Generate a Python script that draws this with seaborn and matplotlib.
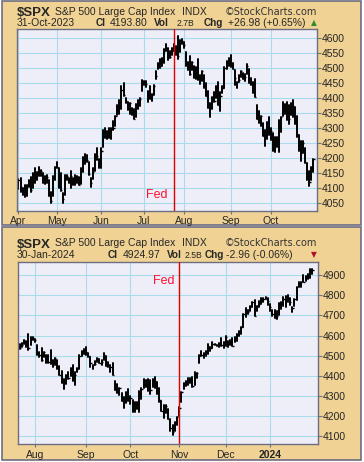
import numpy as np
import pandas as pd
import seaborn as sns
import matplotlib
matplotlib.use('Agg')
import matplotlib.pyplot as plt
from matplotlib.patches import Rectangle

# $SPX barras diarias (maxima, minima, fechamento)
feriados = ['2023-04-07', '2023-05-29', '2023-06-19', '2023-07-04', '2023-09-04',
            '2023-11-23', '2023-12-25', '2024-01-01', '2024-01-15']

abr = [(4128, 4095, 4124.5), (4133, 4086, 4100.6), (4100, 4075, 4090.4), (4108, 4070, 4105.0),
       (4110, 4072, 4109.1), (4124, 4102, 4108.9), (4134, 4086, 4092.0), (4150, 4099, 4146.2),
       (4164, 4114, 4137.6), (4152, 4124, 4151.3), (4170, 4140, 4154.9), (4160, 4139, 4154.5),
       (4148, 4114, 4129.8), (4138, 4113, 4133.5), (4141, 4117, 4137.0), (4126, 4071, 4071.6),
       (4087, 4049, 4056.0), (4139, 4072, 4135.4), (4170, 4127, 4169.5)]
mai = [(4186, 4164, 4167.9), (4164, 4100, 4119.6), (4149, 4088, 4090.8), (4083, 4048, 4061.2),
       (4143, 4076, 4136.3), (4143, 4124, 4138.1), (4131, 4116, 4119.2), (4154, 4099, 4137.6),
       (4132, 4109, 4130.6), (4143, 4108, 4124.1), (4139, 4114, 4136.3), (4135, 4109, 4109.9),
       (4164, 4113, 4158.8), (4202, 4153, 4198.1), (4212, 4180, 4192.0), (4209, 4186, 4192.6),
       (4186, 4143, 4145.6), (4131, 4103, 4115.2), (4165, 4129, 4151.3), (4213, 4155, 4205.5),
       (4231, 4193, 4205.5), (4195, 4167, 4179.8)]
jun = [(4232, 4166, 4221.0), (4291, 4236, 4282.4), (4299, 4267, 4273.8), (4289, 4262, 4283.9),
       (4300, 4265, 4267.5), (4298, 4261, 4293.9), (4322, 4292, 4298.9), (4340, 4304, 4338.9),
       (4375, 4341, 4369.0), (4391, 4346, 4372.6), (4439, 4363, 4425.8), (4448, 4407, 4409.6),
       (4400, 4381, 4388.7), (4387, 4360, 4365.7), (4382, 4345, 4381.9), (4366, 4341, 4348.3),
       (4363, 4328, 4328.8), (4379, 4334, 4378.4), (4391, 4361, 4376.9), (4398, 4372, 4396.4),
       (4458, 4422, 4450.4)]
jul = [(4456, 4442, 4455.6), (4454, 4437, 4446.8), (4423, 4385, 4411.6), (4440, 4397, 4399.0),
       (4412, 4389, 4409.5), (4443, 4408, 4439.3), (4488, 4463, 4472.2), (4517, 4494, 4510.0),
       (4528, 4499, 4505.4), (4532, 4504, 4522.8), (4562, 4515, 4555.0), (4578, 4557, 4565.7),
       (4565, 4527, 4534.9), (4556, 4532, 4536.3), (4564, 4542, 4554.6), (4580, 4556, 4567.5),
       (4572, 4541, 4566.8), (4607, 4528, 4537.4), (4593, 4553, 4582.2), (4595, 4580, 4589.0)]
ago = [(4584, 4567, 4576.7), (4551, 4505, 4513.4), (4519, 4491, 4501.9), (4540, 4475, 4478.0),
       (4520, 4491, 4518.4), (4504, 4464, 4499.4), (4503, 4462, 4467.7), (4528, 4458, 4468.8),
       (4476, 4444, 4464.1), (4490, 4454, 4489.7), (4477, 4432, 4437.9), (4449, 4404, 4404.3),
       (4421, 4364, 4370.4), (4382, 4336, 4369.7), (4401, 4361, 4399.8), (4419, 4384, 4387.6),
       (4438, 4398, 4436.0), (4451, 4376, 4376.3), (4418, 4356, 4405.7), (4440, 4416, 4433.3),
       (4501, 4431, 4497.6), (4521, 4497, 4514.9), (4532, 4507, 4507.7)]
set_ = [(4541, 4501, 4515.8), (4515, 4494, 4496.8), (4491, 4442, 4465.5), (4453, 4431, 4451.1),
        (4474, 4451, 4457.5), (4490, 4468, 4487.5), (4481, 4461, 4461.9), (4479, 4454, 4467.4),
        (4511, 4478, 4505.1), (4497, 4448, 4450.3), (4467, 4443, 4453.5), (4451, 4416, 4444.0),
        (4461, 4402, 4402.2), (4375, 4330, 4330.0), (4357, 4316, 4320.1), (4339, 4304, 4337.4),
        (4314, 4273, 4273.5), (4292, 4239, 4274.5), (4318, 4262, 4299.7), (4334, 4274, 4288.1)]
out = [(4300, 4260, 4288.4), (4281, 4221, 4229.5), (4268, 4220, 4263.8), (4268, 4234, 4258.2),
       (4325, 4219, 4308.5), (4337, 4284, 4335.7), (4385, 4339, 4358.2), (4378, 4345, 4377.0),
       (4386, 4326, 4349.6), (4377, 4311, 4327.8), (4383, 4342, 4373.6), (4393, 4337, 4373.2),
       (4368, 4311, 4314.6), (4339, 4270, 4278.0), (4276, 4223, 4224.2), (4255, 4190, 4217.0),
       (4255, 4216, 4247.7), (4232, 4182, 4186.8), (4183, 4127, 4137.2), (4157, 4104, 4117.4),
       (4169, 4127, 4166.8), (4195, 4153, 4193.8)]
nov = [(4245, 4197, 4237.9), (4320, 4269, 4317.8), (4366, 4335, 4358.3), (4372, 4347, 4366.0),
       (4387, 4355, 4378.4), (4391, 4365, 4382.8), (4393, 4344, 4347.4), (4418, 4353, 4415.2),
       (4414, 4388, 4411.6), (4505, 4461, 4495.7), (4522, 4496, 4502.9), (4511, 4487, 4508.2),
       (4521, 4500, 4514.0), (4557, 4510, 4547.4), (4542, 4525, 4538.2), (4569, 4537, 4556.6),
       (4560, 4552, 4559.3), (4555, 4546, 4550.4), (4562, 4541, 4554.9), (4588, 4547, 4550.6),
       (4569, 4537, 4567.8)]
dez = [(4599, 4547, 4594.6), (4575, 4545, 4569.8), (4578, 4551, 4567.2), (4590, 4547, 4549.3),
       (4591, 4566, 4585.6), (4609, 4575, 4604.4), (4623, 4599, 4622.4), (4644, 4609, 4643.7),
       (4709, 4643, 4707.1), (4738, 4694, 4719.6), (4726, 4705, 4719.2), (4749, 4721, 4740.6),
       (4769, 4743, 4768.4), (4779, 4697, 4698.4), (4749, 4721, 4746.8), (4773, 4743, 4754.6),
       (4785, 4758, 4774.8), (4785, 4769, 4781.6), (4793, 4780, 4783.4), (4789, 4752, 4769.8)]
jan = [(4755, 4722, 4742.8), (4729, 4699, 4704.8), (4727, 4687, 4688.7), (4721, 4682, 4697.2),
       (4764, 4700, 4763.5), (4765, 4730, 4756.5), (4790, 4748, 4783.5), (4798, 4740, 4780.2),
       (4802, 4768, 4783.8), (4785, 4751, 4766.0), (4744, 4715, 4739.2), (4783, 4747, 4780.9),
       (4843, 4775, 4839.8), (4868, 4844, 4850.4), (4866, 4842, 4864.6), (4903, 4865, 4868.6),
       (4898, 4869, 4894.2), (4907, 4882, 4891.0), (4930, 4887, 4927.9), (4932, 4905, 4925.0)]

dias = pd.bdate_range('2023-04-03', '2024-01-30', freq='C', holidays=feriados)
dados = pd.DataFrame(abr + mai + jun + jul + ago + set_ + out + nov + dez + jan,
                     columns=['high', 'low', 'close'], index=dias)

W, H = 364, 462
TAN = '#f0d294'
CINZA = '#6e6e82'
FUNDO = '#eeeef8'
GRADE = '#a8dcea'

sns.set_style('white')
plt.rcParams['font.family'] = ['Liberation Sans', 'DejaVu Sans']

fig = plt.figure(figsize=(W / 100, H / 100), dpi=100)
fig.patch.set_facecolor('white')


def px(x, y):
    return x / W, 1 - y / H


def caixa(x0, y0, x1, y1):
    a, b = px(x0, y1)
    fig.patches.append(Rectangle((a, b), (x1 - x0) / W, (y1 - y0) / H, transform=fig.transFigure,
                                 facecolor=TAN, edgecolor=CINZA, lw=1.2, zorder=-10))


def cabecalho(dy, data, cl, vol, chg, subiu, xs):
    fig.text(*px(17, 16 + dy), '$SPX', fontsize=9.5, fontweight='bold', va='baseline')
    fig.text(*px(55, 15 + dy), 'S&P 500 Large Cap Index', fontsize=7.5, va='baseline')
    fig.text(*px(182, 15 + dy), 'INDX', fontsize=7.5, va='baseline')
    fig.text(*px(317, 15 + dy), '\u00a9StockCharts.com', fontsize=7, va='baseline', ha='right',
             family='DejaVu Sans', color='#333333')
    y2 = 26.5 + dy
    fig.text(*px(17, y2), data, fontsize=7.5, va='baseline')
    fig.text(*px(xs[0], y2), 'Cl', fontsize=7.2, fontweight='bold', va='baseline')
    fig.text(*px(xs[1], y2), cl, fontsize=7.5, va='baseline')
    fig.text(*px(xs[2], y2), 'Vol', fontsize=7.2, fontweight='bold', va='baseline')
    fig.text(*px(xs[3], y2), vol, fontsize=6.2, va='baseline')
    fig.text(*px(xs[4], y2), 'Chg', fontsize=7.2, fontweight='bold', va='baseline')
    fig.text(*px(xs[5], y2), chg, fontsize=7.5, va='baseline')
    fig.text(*px(314, y2 - 1), '\u25b2' if subiu else '\u25bc', fontsize=5.5, ha='center',
             va='baseline', family='DejaVu Sans', color='#2e8b2e' if subiu else '#b0102a')


def painel(caixa_px, ini, fim, xlim, ylim, yticks, fed):
    x0, y0, x1, y1 = caixa_px
    a, b = px(x0, y1)
    ax = fig.add_axes([a, b, (x1 - x0) / W, (y1 - y0) / H])
    d = dados.loc[ini:fim].copy()
    d['x'] = np.arange(len(d))
    d['dia'] = d['x']
    longo = d.melt(id_vars=['x', 'dia'], value_vars=['high', 'low'], value_name='preco')
    sns.lineplot(data=longo, x='x', y='preco', units='dia', estimator=None,
                 color='black', lw=1.4, ax=ax)
    ax.hlines(d['close'], d['x'], d['x'] + 0.6, color='black', lw=1.0)

    # primeiro pregao de cada mes (ignora mes incompleto no inicio)
    primeiros = d.groupby([d.index.year, d.index.month]).head(1)
    primeiros = primeiros[primeiros.index.day <= 5]
    rotulos = ['2024' if (t.year == 2024 and t.month == 1) else t.strftime('%b')
               for t in primeiros.index]
    ax.set_xticks(primeiros['x'].values)
    ax.set_xticklabels(rotulos)
    for t in ax.get_xticklabels():
        if t.get_text() == '2024':
            t.set_fontweight('bold')
            t.set_fontsize(8)

    ax.axvline(d.loc[fed, 'x'], color='#e00000', lw=1.0, zorder=3)

    ax.set_xlim(*xlim)
    ax.set_ylim(*ylim)
    ax.set_yticks(yticks)
    ax.yaxis.tick_right()
    ax.set_facecolor(FUNDO)
    ax.grid(True, color=GRADE, lw=0.8)
    ax.set_axisbelow(True)
    ax.set_xlabel('')
    ax.set_ylabel('')
    ax.tick_params(axis='y', direction='out', length=3, width=0.8, color=CINZA,
                   labelsize=7.5, pad=0.5, right=True, left=False)
    ax.tick_params(axis='x', direction='out', length=2.5, width=0.8, color=CINZA,
                   labelsize=7.5, pad=1.5, bottom=True)
    for s in ax.spines.values():
        s.set_color(CINZA)
        s.set_linewidth(1.0)
    return ax


caixa(2, 1, 361, 225)
caixa(2, 227, 361, 460)

cabecalho(0, '31-Oct-2023', '4193.80', '2.7B', '+26.98 (+0.65%)', True,
          [96, 110, 154, 177, 204, 228])
cabecalho(231.5, '30-Jan-2024', '4924.97', '2.5B', '-2.96 (-0.06%)', False,
          [108, 123, 167, 185, 205, 226])

painel((17, 29.3, 317, 210.7), '2023-04-03', '2023-10-31', (-0.74, 147.8), (4023, 4628),
       list(range(4050, 4601, 50)), '2023-07-25')
painel((18, 262, 318, 444), '2023-07-21', '2024-01-30', (-0.68, 134.6), (4060, 4966),
       list(range(4100, 4901, 100)), '2023-11-01')

fig.text(*px(157, 198.5), 'Fed', fontsize=9, color='#ff1030', ha='center', va='baseline')
fig.text(*px(164, 284.5), 'Fed', fontsize=9, color='#ff1030', ha='center', va='baseline')

fig.savefig('out.png', dpi=100, facecolor='white')
